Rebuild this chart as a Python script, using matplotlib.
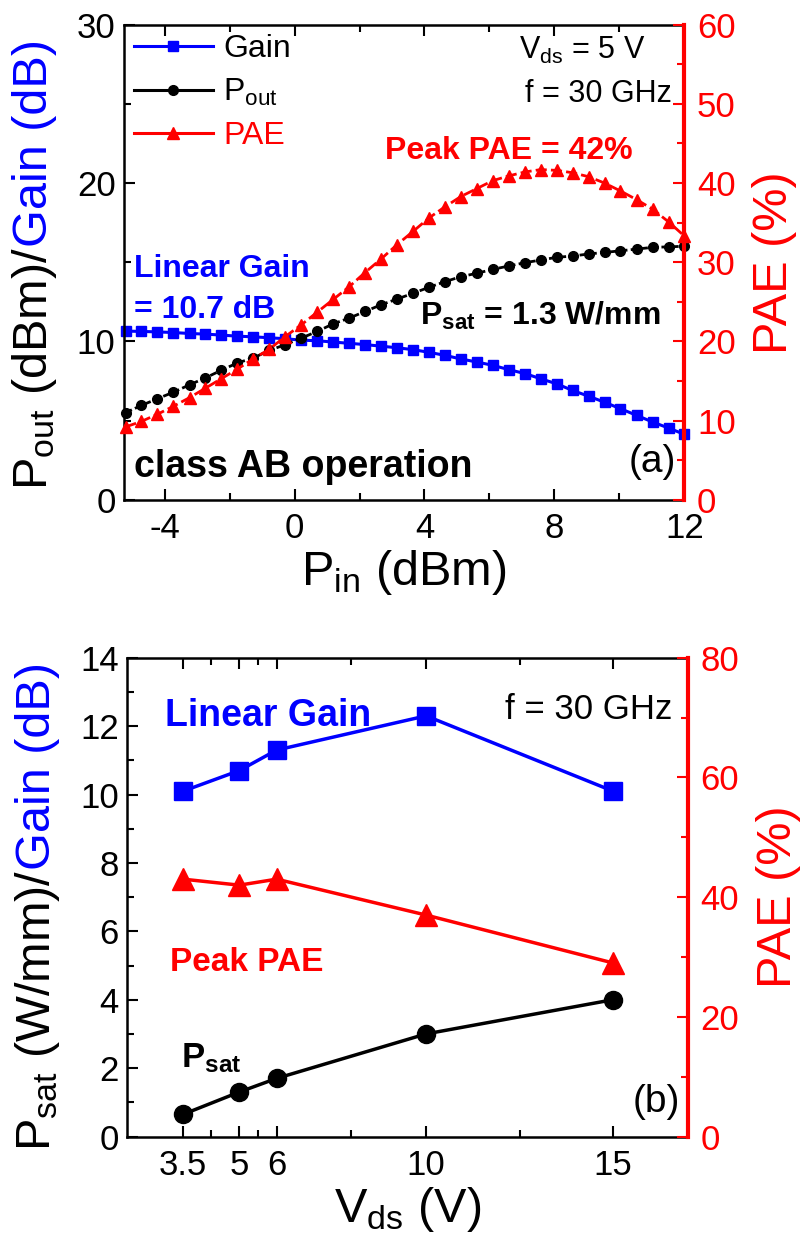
import matplotlib.pyplot as plt
from matplotlib.lines import Line2D
from matplotlib.ticker import MultipleLocator, FixedLocator

plt.rcParams['font.family'] = ['Liberation Sans', 'DejaVu Sans']
plt.rcParams['mathtext.fontset'] = 'custom'
plt.rcParams['mathtext.rm'] = 'Liberation Sans'
plt.rcParams['mathtext.it'] = 'Liberation Sans:italic'
plt.rcParams['mathtext.bf'] = 'Liberation Sans:bold'
plt.rcParams['axes.unicode_minus'] = False

BLUE = '#0000ff'
RED = '#ff0000'

# (a) power sweep, Vds = 5 V, f = 30 GHz
pin = [-5.20, -4.71, -4.22, -3.73, -3.23, -2.74, -2.25, -1.76, -1.27, -0.78,
       -0.29, 0.21, 0.70, 1.19, 1.68, 2.17, 2.66, 3.15, 3.65, 4.14,
       4.63, 5.12, 5.61, 6.10, 6.59, 7.09, 7.58, 8.07, 8.56, 9.05,
       9.54, 10.03, 10.53, 11.02, 11.51, 12.00]
gain = [10.65, 10.63, 10.60, 10.56, 10.50, 10.46, 10.40, 10.33, 10.29, 10.23,
        10.17, 10.08, 10.04, 9.96, 9.88, 9.80, 9.70, 9.60, 9.48, 9.31,
        9.12, 8.89, 8.70, 8.49, 8.22, 7.97, 7.64, 7.32, 6.90, 6.54,
        6.16, 5.75, 5.33, 4.91, 4.53, 4.13]
pout = [5.50, 5.96, 6.38, 6.79, 7.26, 7.70, 8.18, 8.64, 8.95, 9.43,
        9.79, 10.21, 10.63, 11.11, 11.47, 11.89, 12.31, 12.67, 13.04, 13.42,
        13.77, 14.09, 14.30, 14.55, 14.76, 14.97, 15.14, 15.31, 15.39, 15.52,
        15.62, 15.72, 15.83, 15.94, 15.97, 16.01]
pae = [9.2, 9.9, 10.8, 11.8, 12.9, 14.1, 15.3, 16.5, 17.8, 19.0,
       20.6, 22.1, 23.7, 25.3, 26.9, 28.7, 30.4, 32.2, 33.9, 35.6,
       37.0, 38.3, 39.3, 40.3, 40.9, 41.4, 41.7, 41.6, 41.3, 40.8,
       40.0, 39.0, 37.9, 36.7, 35.1, 33.3]

# (b) versus drain bias, f = 30 GHz
vds = [3.5, 5, 6, 10, 15]
lin_gain = [10.1, 10.7, 11.3, 12.3, 10.1]
psat = [0.65, 1.3, 1.7, 3.0, 4.0]
peak_pae = [43, 42, 43, 37, 29]

TICK = 25
LAB = 35

fig = plt.figure(figsize=(8.1, 12.34), dpi=100)


def style(ax, axr):
    for s in ['left', 'top', 'bottom']:
        ax.spines[s].set_linewidth(1.8)
    ax.spines['right'].set_visible(False)
    axr.spines['right'].set_color(RED)
    axr.spines['right'].set_linewidth(3)
    for s in ['left', 'top', 'bottom']:
        axr.spines[s].set_visible(False)
    ax.tick_params(which='both', direction='in', top=True, right=False,
                   width=1.5, labelsize=TICK, pad=6)
    ax.tick_params(axis='x', pad=9)
    ax.tick_params(which='major', length=8)
    ax.tick_params(which='minor', length=5)
    axr.tick_params(which='both', direction='in', color=RED, labelcolor=RED,
                    width=1.5, labelsize=TICK, pad=9)
    axr.tick_params(which='major', length=8)
    axr.tick_params(which='minor', length=5)


# ---------------- (a) ----------------
ax1 = fig.add_axes([0.153, 0.595, 0.692, 0.385])
ax1r = ax1.twinx()
style(ax1, ax1r)

ax1.plot(pin, gain, color=BLUE, lw=2.2, marker='s', ms=6.5, clip_on=False)
ax1.plot(pin, pout, color='black', lw=2, ls=(0, (2.5, 1.2)), marker='o', ms=7,
         clip_on=False)
ax1r.plot(pin, pae, color=RED, lw=2, ls=(0, (4, 1.5)), marker='^', ms=8,
          clip_on=False)

ax1.set_xlim(-5.25, 12)
ax1.set_ylim(0, 30)
ax1r.set_ylim(0, 60)
ax1.xaxis.set_major_locator(MultipleLocator(4))
ax1.xaxis.set_minor_locator(MultipleLocator(2))
ax1.yaxis.set_major_locator(MultipleLocator(10))
ax1.yaxis.set_minor_locator(MultipleLocator(5))
ax1r.yaxis.set_major_locator(MultipleLocator(10))
ax1r.yaxis.set_minor_locator(MultipleLocator(5))
ax1.set_xlabel(r'P$_{\rm in}$ (dBm)', fontsize=LAB, labelpad=2)
ax1r.set_ylabel('PAE (%)', fontsize=LAB, color=RED, labelpad=12)

handles = [
    Line2D([], [], color=BLUE, lw=2.2, marker='s', ms=6.5),
    Line2D([], [], color='black', lw=2.2, marker='o', ms=7),
    Line2D([], [], color=RED, lw=2.2, marker='^', ms=8),
]
leg = ax1.legend(handles, ['Gain', r'P$_{\rm out}$', 'PAE'], loc='upper left',
                 frameon=False, fontsize=23, handlelength=2.5, handletextpad=0.3,
                 labelspacing=0.4, borderaxespad=0.1, borderpad=0.2)
leg.get_texts()[2].set_color(RED)

ax1.text(-4.95, 14.6, 'Linear Gain', color=BLUE, fontsize=23, fontweight='bold',
         va='center')
ax1.text(-4.95, 12.0, '= 10.7 dB', color=BLUE, fontsize=23, fontweight='bold',
         va='center')
ax1.text(6.6, 22.0, 'Peak PAE = 42%', color=RED, fontsize=23, fontweight='bold',
         ha='center', va='center')
ax1.text(3.85, 11.6, r'P$_{\mathbf{sat}}$ = 1.3 W/mm', color='black', fontsize=23,
         fontweight='bold', va='center')
ax1.text(-4.95, 2.1, 'class AB operation', color='black', fontsize=27,
         fontweight='bold', va='center')
ax1.text(11.75, 2.4, '(a)', fontsize=28, ha='right', va='center')
ax1.text(10.8, 28.4, r'V$_{\rm ds}$ = 5 V', fontsize=22, ha='right', va='center')
ax1.text(11.6, 25.6, 'f = 30 GHz', fontsize=22, ha='right', va='center')

# two-colour left label
fig.text(0.058, 0.800, r'P$_{\rm out}$ (dBm)/', fontsize=LAB, rotation=90,
         rotation_mode='anchor', ha='right', va='baseline')
fig.text(0.058, 0.800, 'Gain (dB)', fontsize=LAB, color=BLUE, rotation=90,
         rotation_mode='anchor', ha='left', va='baseline')

# ---------------- (b) ----------------
ax2 = fig.add_axes([0.157, 0.079, 0.692, 0.388])
ax2r = ax2.twinx()
style(ax2, ax2r)

ax2.plot(vds, lin_gain, color=BLUE, lw=2.5, marker='s', ms=13)
ax2.plot(vds, psat, color='black', lw=2.5, marker='o', ms=13)
ax2r.plot(vds, peak_pae, color=RED, lw=2.5, marker='^', ms=16)

ax2.set_xlim(2, 17)
ax2.set_ylim(0, 14)
ax2r.set_ylim(0, 80)
ax2.xaxis.set_major_locator(FixedLocator(vds))
ax2.set_xticklabels(['3.5', '5', '6', '10', '15'])
ax2.xaxis.set_minor_locator(FixedLocator([4.25, 5.5, 8, 12.5]))
ax2.yaxis.set_major_locator(MultipleLocator(2))
ax2.yaxis.set_minor_locator(MultipleLocator(1))
ax2r.yaxis.set_major_locator(MultipleLocator(20))
ax2r.yaxis.set_minor_locator(MultipleLocator(10))
ax2.set_xlabel(r'V$_{\rm ds}$ (V)', fontsize=LAB, labelpad=2)
ax2r.set_ylabel('PAE (%)', fontsize=LAB, color=RED, labelpad=12)

ax2.text(3.0, 12.3, 'Linear Gain', color=BLUE, fontsize=27, fontweight='bold',
         va='center')
ax2.text(16.6, 12.5, 'f = 30 GHz', fontsize=25, ha='right', va='center')
ax2.text(3.15, 5.1, 'Peak PAE', color=RED, fontsize=24, fontweight='bold',
         va='center')
ax2.text(3.45, 2.3, r'P$_{\mathbf{sat}}$', color='black', fontsize=25,
         fontweight='bold', va='center')
ax2.text(16.8, 1.0, '(b)', fontsize=28, ha='right', va='center')

fig.text(0.062, 0.295, r'P$_{\rm sat}$ (W/mm)/', fontsize=LAB, rotation=90,
         rotation_mode='anchor', ha='right', va='baseline')
fig.text(0.062, 0.295, 'Gain (dB)', fontsize=LAB, color=BLUE, rotation=90,
         rotation_mode='anchor', ha='left', va='baseline')

fig.savefig('out.png', dpi=100)
